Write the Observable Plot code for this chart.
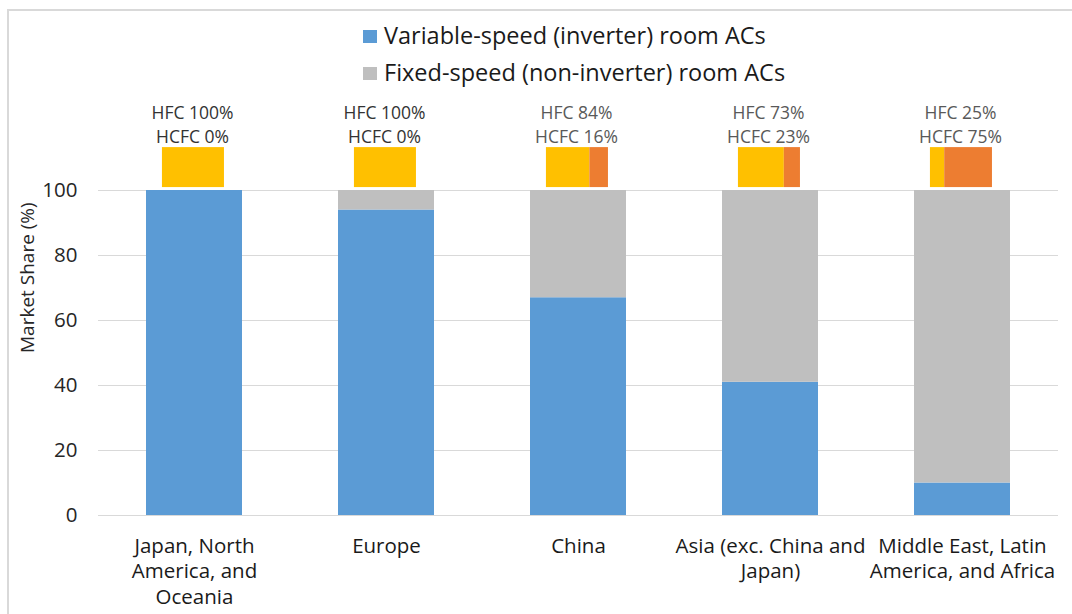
<!DOCTYPE html>
<html>
<head>
<meta charset="utf-8">
<script src="https://cdn.jsdelivr.net/npm/d3@7"></script>
<script src="https://cdn.jsdelivr.net/npm/@observablehq/plot@0.6"></script>
<style>
  html, body { margin: 0; padding: 0; background: #fff; }
  #wrap { position: relative; width: 1072px; height: 614px; overflow: hidden; font-family: "Open Sans", Lato, sans-serif; }
  #frame { position: absolute; left: 7px; top: 9px; width: 1080px; height: 620px; border-left: 2px solid #d9d9d9; border-top: 2px solid #d9d9d9; }
  #chart { position: absolute; left: 0; top: 0; }
  .leg { position: absolute; left: 363px; font-size: 23.5px; color: #1a1a1a; white-space: nowrap; line-height: 1; }
  .leg span.sw { display: inline-block; width: 14px; height: 13px; margin-right: 7px; vertical-align: 1px; }
</style>
</head>
<body>
<div id="wrap">
  <div id="frame"></div>
  <div id="chart"></div>
  <div id="legend"></div>
</div>
<script>
const regions = ["Japan, North America, and Oceania", "Europe", "China", "Asia (exc. China and Japan)", "Middle East, Latin America, and Africa"];
const regionLabels = ["Japan, North\nAmerica, and\nOceania", "Europe", "China", "Asia (exc. China and\nJapan)", "Middle East, Latin\nAmerica, and Africa"];
const variableSpeed = [100, 94, 67, 41, 10];
const fixedSpeed = [0, 6, 33, 59, 90];
const hfcLabel = [100, 100, 84, 73, 25];
const hcfcLabel = [0, 0, 16, 23, 75];
const hfcBoxShare = [100, 100, 70, 74, 23];
const yTicks = [0, 20, 40, 60, 80, 100];
const seriesNames = ["Variable-speed (inverter) room ACs", "Fixed-speed (non-inverter) room ACs"];
const yLabel = "Market Share (%)";

const colors = { variable: "#5b9bd5", fixed: "#bfbfbf", hfc: "#ffc000", hcfc: "#ed7d31" };
const barHalf = 0.25;
const boxLeft = -0.167, boxWidth = 0.323;
const boxY1 = 100.9, boxY2 = 113.2;

const data = regions.map((r, i) => ({
  i, region: r, label: regionLabels[i],
  variable: variableSpeed[i], fixed: fixedSpeed[i],
  hfc: hfcLabel[i], hcfc: hcfcLabel[i], share: hfcBoxShare[i]
}));

const font = "'Open Sans', Lato, sans-serif";

const chart = Plot.plot({
  width: 1072,
  height: 614,
  marginTop: 190,
  marginBottom: 99,
  marginLeft: 98,
  marginRight: 14,
  style: { fontFamily: font, background: "transparent", overflow: "visible" },
  x: { type: "linear", domain: [-0.5, 4.5], axis: null },
  y: { domain: [0, 100], axis: null },
  marks: [
    Plot.ruleY(yTicks, { stroke: "#d9d9d9", strokeWidth: 1 }),
    Plot.text(yTicks, { x: -0.5, y: d => d, text: d => String(d), textAnchor: "end", dx: -21, fontSize: 20.5, fill: "#262626" }),
    Plot.text([yLabel], { frameAnchor: "left", rotate: -90, dx: -71, fontSize: 19, fill: "#262626" }),
    Plot.rect(data, { x1: d => d.i - barHalf, x2: d => d.i + barHalf, y1: 0, y2: d => d.variable, fill: colors.variable }),
    Plot.rect(data, { x1: d => d.i - barHalf, x2: d => d.i + barHalf, y1: d => d.variable, y2: d => d.variable + d.fixed, fill: colors.fixed }),
    Plot.rect(data, { x1: d => d.i + boxLeft, x2: d => d.i + boxLeft + boxWidth * d.share / 100, y1: boxY1, y2: boxY2, fill: colors.hfc }),
    Plot.rect(data.filter(d => d.share < 100), { x1: d => d.i + boxLeft + boxWidth * d.share / 100, x2: d => d.i + boxLeft + boxWidth, y1: boxY1, y2: boxY2, fill: colors.hcfc }),
    Plot.text(data, { x: d => d.i - 0.01, frameAnchor: "top", dy: -84, text: d => `HFC ${d.hfc}%`, fontSize: 17.5, fill: d => d.i < 2 ? "#333333" : "#595959" }),
    Plot.text(data, { x: d => d.i - 0.01, frameAnchor: "top", dy: -60, text: d => `HCFC ${d.hcfc}%`, fontSize: 17.5, fill: d => d.i < 2 ? "#333333" : "#595959" }),
    Plot.text(data, { x: "i", frameAnchor: "bottom", lineAnchor: "top", dy: 19, lineHeight: 1.25, text: "label", fontSize: 20.5, fill: "#1a1a1a" })
  ]
});
document.getElementById("chart").appendChild(chart);

const legend = document.getElementById("legend");
[[seriesNames[0], colors.variable, 24], [seriesNames[1], colors.fixed, 61]].forEach(([name, c, top]) => {
  const d = document.createElement("div");
  d.className = "leg";
  d.style.top = top + "px";
  d.innerHTML = `<span class="sw" style="background:${c}"></span>${name}`;
  legend.appendChild(d);
});
</script>
</body>
</html>
